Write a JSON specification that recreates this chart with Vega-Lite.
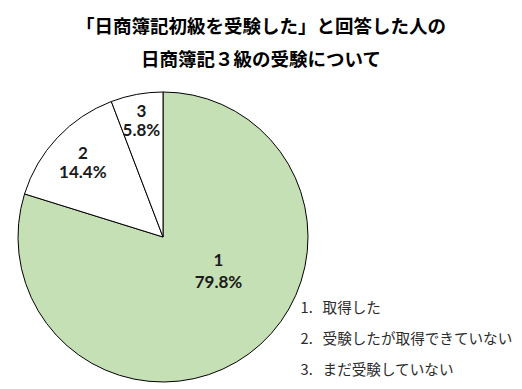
{
  "$schema": "https://vega.github.io/schema/vega-lite/v6.json",
  "autosize": {"type": "none"},
  "width": 290,
  "height": 290,
  "padding": {"left": 18, "top": 92, "right": 214, "bottom": 7},
  "background": "#ffffff",
  "config": {"view": {"stroke": null}},
  "title": {
    "text": ["「日商簿記初級を受験した」と回答した人の", "日商簿記３級の受験について"],
    "font": "Noto Sans CJK JP",
    "fontSize": 18.5,
    "fontWeight": "bold",
    "color": "#000000",
    "lineHeight": 33,
    "anchor": "middle",
    "frame": "group",
    "dx": 98,
    "offset": 21
  },
  "data": {
    "values": [
      {"no": 1, "item": "1.\u00a0\u00a0\u00a0取得した", "value": 79.8, "label": "1\n79.8%"},
      {"no": 2, "item": "2.\u00a0\u00a0\u00a0受験したが取得できていない", "value": 14.4, "label": "2\n14.4%"},
      {"no": 3, "item": "3.\u00a0\u00a0\u00a0まだ受験していない", "value": 5.8, "label": "3\n5.8%"}
    ]
  },
  "transform": [
    {"stack": "value", "groupby": [], "sort": [{"field": "no", "order": "ascending"}], "as": ["v0", "v1"]},
    {"calculate": "(datum.v0 + datum.v1) / 2", "as": "vmid"}
  ],
  "layer": [
    {
      "mark": {"type": "arc", "stroke": "#000000", "strokeWidth": 1},
      "encoding": {
        "theta": {"field": "v0", "type": "quantitative", "scale": {"domain": [0, 100]}},
        "theta2": {"field": "v1"},
        "color": {
          "field": "item",
          "type": "nominal",
          "scale": {"domain": ["1.\u00a0\u00a0\u00a0取得した", "2.\u00a0\u00a0\u00a0受験したが取得できていない", "3.\u00a0\u00a0\u00a0まだ受験していない"], "range": ["#c5e0b4", "#ffffff", "#ffffff"]},
          "legend": {
            "title": null,
            "orient": "none",
            "legendX": 268,
            "legendY": 210,
            "symbolSize": 0,
            "symbolOpacity": 0,
            "symbolStrokeWidth": 0,
            "labelOffset": 0,
            "labelFont": "Noto Sans CJK JP",
            "labelFontSize": 14.6,
            "labelColor": "#2b2b2b",
            "labelLimit": 300,
            "rowPadding": 16,
            "padding": 0
          }
        }
      }
    },
    {
      "transform": [{"filter": "datum.no == 1"}],
      "mark": {"type": "text", "radius": 43, "dx": 30, "dy": -11, "font": "Lato", "fontSize": 17, "fontWeight": "bold", "color": "#1a1a1a", "lineBreak": "\n", "lineHeight": 22, "align": "center", "baseline": "middle"},
      "encoding": {
        "theta": {"field": "vmid", "type": "quantitative"},
        "text": {"field": "label", "type": "nominal"}
      }
    },
    {
      "transform": [{"filter": "datum.no == 2"}],
      "mark": {"type": "text", "radius": 110, "dy": -8, "font": "Lato", "fontSize": 17, "fontWeight": "bold", "color": "#1a1a1a", "lineBreak": "\n", "lineHeight": 19, "align": "center", "baseline": "middle"},
      "encoding": {
        "theta": {"field": "vmid", "type": "quantitative"},
        "text": {"field": "label", "type": "nominal"}
      }
    },
    {
      "transform": [{"filter": "datum.no == 3"}],
      "mark": {"type": "text", "radius": 119, "dy": -8, "font": "Lato", "fontSize": 17, "fontWeight": "bold", "color": "#1a1a1a", "lineBreak": "\n", "lineHeight": 19, "align": "center", "baseline": "middle"},
      "encoding": {
        "theta": {"field": "vmid", "type": "quantitative"},
        "text": {"field": "label", "type": "nominal"}
      }
    }
  ]
}
